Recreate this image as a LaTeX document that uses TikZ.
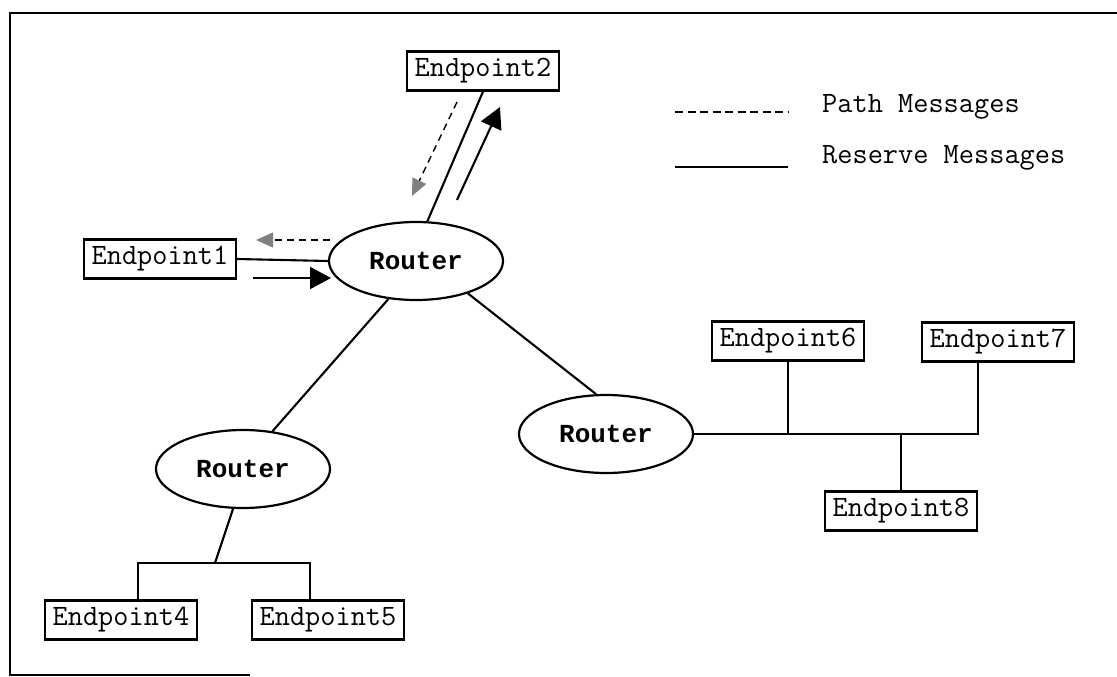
\documentclass[tikz,border=0pt]{standalone}
\usepackage{fontspec}
\newfontfamily\routerfont{Liberation Mono}
\usetikzlibrary{arrows.meta,shapes.geometric}

\tikzset{
  endpoint/.style={draw, line width=2.2pt, minimum width=152pt, minimum height=39pt,
    inner sep=0pt, font=\ttfamily\fontsize{29.5}{33}\selectfont},
  router/.style={draw, ellipse, line width=2.2pt, minimum width=174pt, minimum height=78pt,
    inner sep=0pt, font=\routerfont\bfseries\fontsize{26}{30}\selectfont},
  link/.style={line width=2.1pt},
  legendtext/.style={anchor=base west, inner sep=0pt, font=\ttfamily\fontsize{29.5}{33}\selectfont},
  pathmsg/.style={line width=1.4pt, dash pattern=on 7pt off 5pt,
    -{Triangle[length=17pt,width=15pt,color=gray]}},
  resvmsg/.style={line width=2.1pt, -{Triangle[length=21pt,width=22pt]}}
}

\begin{document}
\begin{tikzpicture}[x=1pt,y=-1pt]
  \useasboundingbox (0,0) rectangle (1117,677);
  % frame
  \draw[line width=2.4pt] (1117,13) -- (10,13) -- (10,675) -- (250,675);

  % routers
  \node[router] (r1) at (416,261) {Router};
  \node[router] (r2) at (243,469) {Router};
  \node[router] (r3) at (606,434) {Router};

  % endpoints
  \node[endpoint] (e1) at (160,259) {Endpoint1};
  \node[endpoint] (e2) at (483,71) {Endpoint2};
  \node[endpoint] (e4) at (121,620) {Endpoint4};
  \node[endpoint] (e5) at (328,620) {Endpoint5};
  \node[endpoint] (e6) at (788,341) {Endpoint6};
  \node[endpoint] (e7) at (998,342) {Endpoint7};
  \node[endpoint] (e8) at (901,511) {Endpoint8};

  % links
  \draw[link] (e1.east) -- (r1.west);
  \draw[link] (r1.74) -- (e2.south);
  \draw[link] (r1.-126) -- (r2.52);
  \draw[link] (r1.-32) -- (r3.104);

  % lower left segment
  \coordinate (bus2) at (215,563);
  \coordinate (b4) at (138,563);
  \coordinate (b5) at (310,563);
  \draw[link] (r2.-104) -- (bus2);
  \draw[link] (b4 |- e4.north) -- (b4) -- (b5) -- (b5 |- e5.north);

  % right segment
  \coordinate (b7) at (978,434);
  \draw[link] (r3.east) -- (b7) -- (b7 |- e7.south);
  \draw[link] (e6.south) -- (e6.south |- b7);
  \draw[link] (e8.north) -- (e8.north |- b7);

  % messages
  \coordinate (p2s) at (457,102);
  \coordinate (p2t) at (412,196);
  \coordinate (p1s) at (330,240);
  \coordinate (p1t) at (256,240);
  \coordinate (q2s) at (457,200);
  \coordinate (q2t) at (500,107);
  \coordinate (q1s) at (253,278);
  \coordinate (q1t) at (331,278);
  \draw[pathmsg] (p2s) -- (p2t);
  \draw[pathmsg] (p1s) -- (p1t);
  \draw[resvmsg] (q2s) -- (q2t);
  \draw[resvmsg] (q1s) -- (q1t);

  % legend
  \draw[line width=2.1pt, dash pattern=on 8pt off 4.5pt] (675,112) -- (788,112);
  \draw[line width=2.1pt] (675,167) -- (788,167);
  \node[legendtext] (lpath) at (822,113) {Path Messages};
  \node[legendtext] (lresv) at (822,163) {Reserve Messages};
\end{tikzpicture}
\end{document}
